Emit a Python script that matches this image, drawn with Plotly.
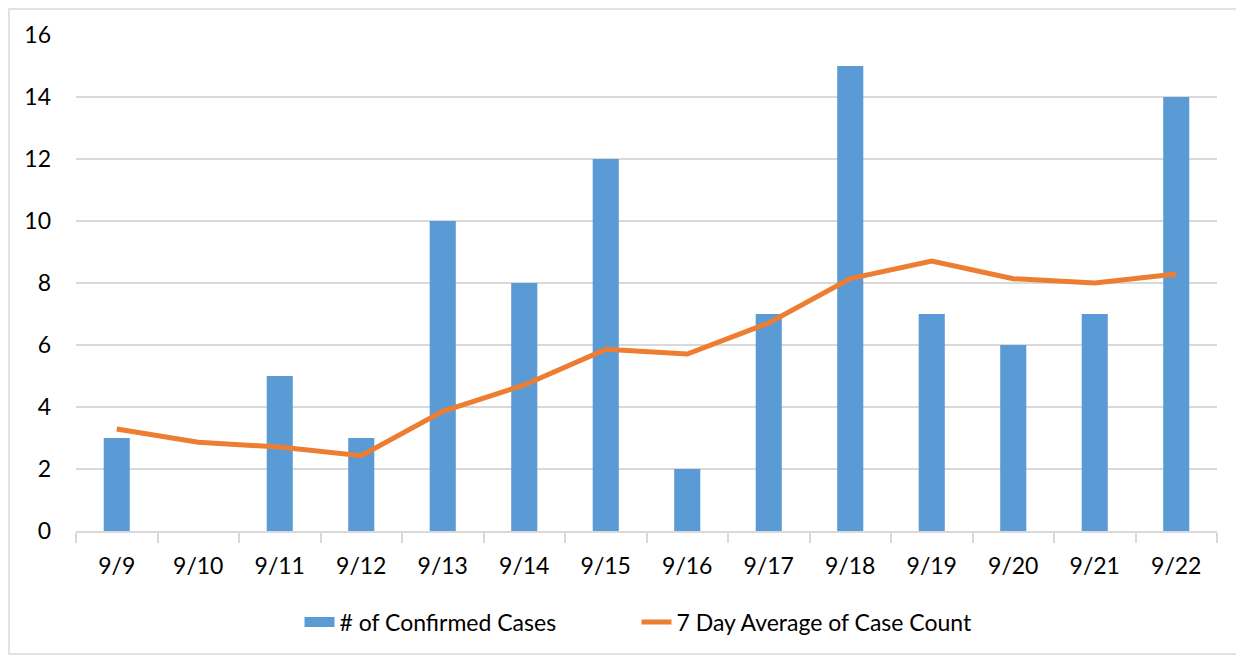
import plotly.graph_objects as go

dates = ["9/9", "9/10", "9/11", "9/12", "9/13", "9/14", "9/15", "9/16",
         "9/17", "9/18", "9/19", "9/20", "9/21", "9/22"]
confirmed_cases = [3, 0, 5, 3, 10, 8, 12, 2, 7, 15, 7, 6, 7, 14]
seven_day_avg = [3.29, 2.86, 2.71, 2.43, 3.86, 4.71, 5.86, 5.71, 6.71,
                 8.14, 8.71, 8.14, 8.0, 8.29]
y_ticks = [0, 2, 4, 6, 8, 10, 12, 14, 16]

FONT = "Lato, 'Open Sans', sans-serif"
BLUE = "#5B9BD5"
ORANGE = "#ED7D31"

fig = go.Figure()
fig.add_trace(go.Bar(x=dates, y=confirmed_cases, name="# of Confirmed Cases",
                     marker=dict(color=BLUE, line=dict(width=0)), width=0.32,
                     showlegend=False))
# legend proxy (wide rectangle swatch like the reference)
fig.add_trace(go.Scatter(x=[None], y=[None], name="# of Confirmed Cases",
                         mode="lines", line=dict(color=BLUE, width=15)))
fig.add_trace(go.Scatter(x=dates, y=seven_day_avg, name="7 Day Average of Case Count",
                         mode="lines", line=dict(color=ORANGE, width=5)))

W, H = 1244, 658
OFF = 8  # page body margin
L, R, T, B = 68, 35, 27, 135
pw, ph = W - L - R, H - T - B

def px_x(px):
    return (px - OFF - L) / pw

def px_y(py):
    return (H - B - (py - OFF)) / ph

fig.update_layout(
    width=W, height=H,
    margin=dict(l=L, r=R, t=T, b=B),
    paper_bgcolor="white", plot_bgcolor="white",
    font=dict(family=FONT, size=23, color="#000000"),
    showlegend=True,
    legend=dict(orientation="h", x=0.5 - 10 / pw, xanchor="center", y=px_y(622),
                yanchor="middle", font=dict(size=23), entrywidth=292,
                traceorder="normal"),
    xaxis=dict(type="category", showgrid=False, showline=True, linecolor="#d9d9d9",
               linewidth=1.5, ticks="outside", tickson="boundaries", ticklen=10,
               tickcolor="#d9d9d9", tickwidth=1.5, ticklabelstandoff=14,
               tickfont=dict(size=23)),
    yaxis=dict(range=[0, 16], tickvals=y_ticks, showgrid=True, gridcolor="#d9d9d9",
               gridwidth=1.5, zeroline=False, showline=False, ticks="",
               ticklabelstandoff=24, tickfont=dict(size=23)),
    shapes=[dict(type="rect", xref="paper", yref="paper",
                 x0=px_x(9), x1=px_x(1238), y0=px_y(654), y1=px_y(9),
                 line=dict(color="#d9d9d9", width=1.5), fillcolor="rgba(0,0,0,0)",
                 layer="below")],
)

fig.write_html("out.html")
